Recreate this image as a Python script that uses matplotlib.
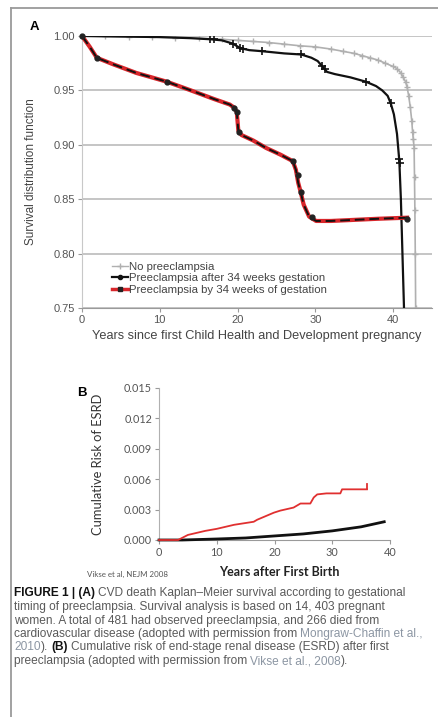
import numpy as np
import matplotlib
matplotlib.use("Agg")
import matplotlib.pyplot as plt
from matplotlib.lines import Line2D

W, H = 438, 717

# ---- Panel A: CVD death Kaplan-Meier survival ----
no_pe_years = [0, 3, 6, 9, 12, 15, 18, 20, 22, 24, 26, 28, 30, 32, 33.5, 35, 36, 37,
               38, 39, 40, 40.5, 41, 41.3, 41.6, 41.8, 42.0, 42.2, 42.4, 42.5, 42.6,
               42.7, 42.75, 42.8, 42.85, 42.9]
no_pe_vals = [1.0, 0.9997, 0.9994, 0.999, 0.9985, 0.998, 0.997, 0.996, 0.995, 0.994,
              0.9925, 0.991, 0.990, 0.988, 0.986, 0.984, 0.982, 0.980, 0.978, 0.975,
              0.972, 0.970, 0.966, 0.962, 0.958, 0.953, 0.945, 0.935, 0.922, 0.912,
              0.905, 0.897, 0.87, 0.84, 0.80, 0.75]

late_years = [0, 5, 10, 14, 16.5, 18, 19.4, 20.3, 21.5, 23.2, 26, 28.2, 29.5, 30.3, 30.9,
              31.5, 32.5, 34.5, 36.5, 37.8, 38.6, 39.3, 39.7, 40.1, 40.5, 40.8, 41.0,
              41.2, 41.4, 41.6]
late_vals = [1.0, 0.9995, 0.999, 0.998, 0.997, 0.996, 0.993, 0.989, 0.987, 0.986, 0.984,
             0.983, 0.980, 0.977, 0.972, 0.967, 0.965, 0.962, 0.958, 0.954, 0.950, 0.945,
             0.938, 0.928, 0.910, 0.885, 0.85, 0.80, 0.75, 0.70]
late_cens_years = [16.5, 17.0, 19.4, 20.3, 20.7, 23.2, 28.2, 30.9, 31.2, 36.5, 39.7, 40.8, 40.85]
late_cens_vals = [0.997, 0.9968, 0.993, 0.989, 0.988, 0.986, 0.983, 0.972, 0.970, 0.958,
                  0.938, 0.887, 0.883]

early_years = [0, 1.0, 1.9, 4, 7, 10.9, 14, 17, 19.0, 19.6, 19.9, 20.1, 20.5, 22, 23.7,
               25.5, 27.1, 27.5, 27.8, 28.1, 28.5, 29.2, 30.1, 32, 35, 38, 41.8]
early_vals = [1.0, 0.99, 0.98, 0.974, 0.966, 0.958, 0.950, 0.942, 0.937, 0.934, 0.930,
              0.913, 0.909, 0.904, 0.897, 0.891, 0.885, 0.877, 0.865, 0.857, 0.845, 0.834,
              0.830, 0.830, 0.831, 0.832, 0.833]
early_cens_years = [0, 1.9, 10.9, 19.6, 19.9, 20.2, 27.1, 27.8, 28.1, 29.6, 41.8]
early_cens_vals = [1.0, 0.98, 0.958, 0.934, 0.930, 0.912, 0.885, 0.872, 0.857, 0.834, 0.832]

a_yticks = [0.75, 0.80, 0.85, 0.90, 0.95, 1.00]
a_xticks = [0, 10, 20, 30, 40]

# ---- Panel B: cumulative risk of ESRD ----
esrd_pe_years = [0, 3.3, 5, 8, 10, 13, 16.4, 17, 19.9, 21, 23.3, 24.5, 26.2, 26.8, 27.4,
                 29, 31.4, 31.7, 36.0]
esrd_pe_vals = [0, 0, 0.0005, 0.0009, 0.0011, 0.0015, 0.0018, 0.0020, 0.0027, 0.0029,
                0.0032, 0.0036, 0.0036, 0.0042, 0.0045, 0.0046, 0.0046, 0.0050, 0.0050]
esrd_no_years = [0, 4, 10, 15, 20, 25, 30, 35, 39]
esrd_no_vals = [0, 0, 0.0001, 0.0002, 0.0004, 0.0006, 0.0009, 0.0013, 0.0018]
b_yticks = [0.0, 0.003, 0.006, 0.009, 0.012, 0.015]
b_xticks = [0, 10, 20, 30, 40]

plt.rcParams['font.family'] = ['Liberation Sans', 'DejaVu Sans']
fig = plt.figure(figsize=(W / 100, H / 100), dpi=100)
fig.patch.set_facecolor('white')


def fx(px):
    return px / W


def fy(px):
    return 1 - px / H


# outer frame of the figure page
fig.add_artist(Line2D([fx(11), 1.0], [fy(8), fy(8)], color='#9a9a9a', lw=1.3))
fig.add_artist(Line2D([fx(11), fx(11)], [fy(8), 0.0], color='#9a9a9a', lw=1.3))

# ---------------- Panel A ----------------
axA = fig.add_axes([fx(82), fy(308), fx(350), (308 - 36) / H])
axA.set_xlim(0, 45)
axA.set_ylim(0.75, 1.0)
for y in a_yticks:
    axA.axhline(y, color='#b5b5b5', lw=1.1, zorder=0)
for s in ['top', 'right']:
    axA.spines[s].set_visible(False)
axA.spines['left'].set_color('#c8c8c8')
axA.spines['bottom'].set_color('#9a9a9a')

axA.plot(no_pe_years, no_pe_vals, color='#b0b0b0', lw=1.2, marker='+', ms=4,
         mew=1.0, zorder=2)
axA.plot(late_years, late_vals, color='#111111', lw=1.6, zorder=3)
axA.plot(late_cens_years, late_cens_vals, ls='none', marker='+', ms=6, mew=1.2,
         color='#111111', zorder=4)
axA.plot(early_years, early_vals, color='#d8262b', lw=3.0, zorder=5)
axA.plot(early_years, early_vals, color='#111111', lw=1.4, ls=(0, (5, 2.5)), zorder=6)
axA.plot(early_cens_years, early_cens_vals, ls='none', marker='o', ms=3.5,
         color='#222222', zorder=7, clip_on=False)

axA.set_yticks(a_yticks)
axA.set_yticklabels([f'{v:.2f}' for v in a_yticks])
axA.set_xticks(a_xticks)
axA.tick_params(axis='both', labelsize=8, colors='#9a9a9a', labelcolor='#555555',
                length=3, width=0.8, pad=2)
axA.set_ylabel('Survival distribution function', fontsize=8.5, color='#444444')
axA.yaxis.set_label_coords((37 - 82) / 350, 0.5)
axA.set_xlabel('Years since first Child Health and Development pregnancy',
               fontsize=9.2, color='#444444', labelpad=4)

handles = [
    Line2D([], [], color='#b0b0b0', lw=1.0, marker='+', ms=4),
    Line2D([], [], color='#111111', lw=1.6, marker='o', ms=3),
    Line2D([], [], color='#d8262b', lw=2.5, marker='s', ms=3.5, mfc='#222222',
           mec='#222222'),
]
labels = ['No preeclampsia', 'Preeclampsia after 34 weeks gestation',
          'Preeclampsia by 34 weeks of gestation']
fig.legend(handles, labels, loc='upper left', bbox_to_anchor=(fx(106), fy(256)),
           frameon=False, fontsize=8.2, handlelength=1.4, handletextpad=0.1,
           labelspacing=0.15, borderpad=0, labelcolor='#444444')

fig.text(fx(30), fy(27), 'A', fontsize=9.5, fontweight='bold', va='center', ha='left')

# ---------------- Panel B ----------------
axB = fig.add_axes([fx(159), fy(540), fx(231), 152 / H])
axB.set_xlim(0, 40)
axB.set_ylim(0, 0.015)
for s in ['top', 'right']:
    axB.spines[s].set_visible(False)
axB.spines['left'].set_color('#b0b0b0')
axB.spines['bottom'].set_color('#9a9a9a')
axB.plot(esrd_no_years, esrd_no_vals, color='#111111', lw=2.0, zorder=3, clip_on=False)
axB.plot(esrd_pe_years, esrd_pe_vals, color='#e03030', lw=1.3, zorder=4, clip_on=False)
axB.plot([esrd_pe_years[-1], esrd_pe_years[-1]], [esrd_pe_vals[-1], 0.0055],
         color='#e03030', lw=1.3, zorder=4)
axB.set_yticks(b_yticks)
axB.set_yticklabels([f'{v:.3f}' for v in b_yticks], fontfamily='Lato')
axB.set_xticks(b_xticks)
axB.set_xticklabels([str(v) for v in b_xticks], fontfamily='Lato')
axB.tick_params(axis='both', labelsize=7.8, colors='#9a9a9a', labelcolor='#555555',
                length=3, width=0.8, pad=2)
axB.set_ylabel('Cumulative Risk of ESRD', fontsize=9.3, fontfamily='Lato',
               color='#333333')
axB.yaxis.set_label_coords((104 - 159) / 231, 0.5)

fig.text(fx(77), fy(393), 'B', fontsize=9.5, fontweight='bold', va='center', ha='left')
fig.text(fx(279), fy(572), 'Years after First Birth', fontsize=9, fontweight='bold',
         fontfamily='Lato', color='#222222', ha='center', va='center')
fig.text(fx(87), fy(574), 'Vikse et al, NEJM 2008', fontsize=5.7, fontfamily='Lato',
         color='#555555', ha='left', va='center')

# ---------------- Caption ----------------
DARK, BODY, LINK = '#111111', '#5a5a5a', '#8c96a3'
CAP_FS = 8.6
caption = [
    (593, [('FIGURE 1 | (A)', DARK, 'bold'),
           ('CVD death Kaplan\u2013Meier survival according to gestational', BODY, 'normal')]),
    (607, [('timing of preeclampsia. Survival analysis is based on 14, 403 pregnant', BODY, 'normal')]),
    (621, [('women. A total of 481 had observed preeclampsia, and 266 died from', BODY, 'normal')]),
    (634, [('cardiovascular disease (adopted with permission from', BODY, 'normal'),
           ('Mongraw-Chaffin et al.,', LINK, 'normal')]),
    (647, [('2010', LINK, 'normal'), ('/).', BODY, 'normal'), ('(B)', DARK, 'bold'),
           ('Cumulative risk of end-stage renal disease (ESRD) after first', BODY, 'normal')]),
    (661, [('preeclampsia (adopted with permission from', BODY, 'normal'),
           ('Vikse et al., 2008', LINK, 'normal'), ('/).', BODY, 'normal')]),
]

renderer = fig.canvas.get_renderer()
probe1 = fig.text(0, 0, 'x x', fontsize=CAP_FS)
probe2 = fig.text(0, 0, 'xx', fontsize=CAP_FS)
space_w = (probe1.get_window_extent(renderer).width
           - probe2.get_window_extent(renderer).width)
probe1.remove()
probe2.remove()

for ypx, segs in caption:
    xpx = 14
    for i, (txt, col, wt) in enumerate(segs):
        glue = txt.startswith('/')
        txt = txt.lstrip('/')
        if i > 0 and not glue:
            xpx += space_w
        t = fig.text(fx(xpx), fy(ypx), txt, fontsize=CAP_FS, color=col, fontweight=wt,
                     ha='left', va='center')
        xpx += t.get_window_extent(renderer).width

fig.savefig('out.png', dpi=100)
